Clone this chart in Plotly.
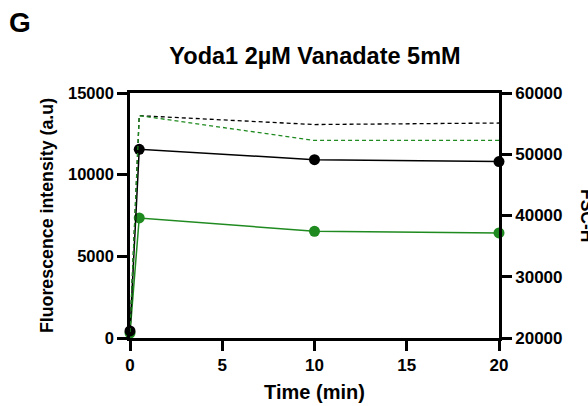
import plotly.graph_objects as go

time = [0, 0.5, 10, 20]
fluo_black = [430, 11550, 10920, 10800]
fluo_green = [300, 7350, 6530, 6430]
fsc_black = [21000, 56300, 54850, 55100]
fsc_green = [21000, 56300, 52250, 52250]

x_ticks = [0, 5, 10, 15, 20]
y_ticks = [0, 5000, 10000, 15000]
y2_ticks = [20000, 30000, 40000, 50000, 60000]

BLACK = "#000000"
GREEN = "#1f8a1f"
FONT = "Liberation Sans, Arial, sans-serif"

L, R, T, B = 130, 499, 93, 338
W, H = 588, 406

fig = go.Figure()
fig.add_trace(go.Scatter(x=time, y=fsc_black, yaxis="y2", mode="lines",
                         line=dict(color=BLACK, width=1.3, dash="4px,3px"), cliponaxis=False))
fig.add_trace(go.Scatter(x=time, y=fsc_green, yaxis="y2", mode="lines",
                         line=dict(color=GREEN, width=1.3, dash="4px,3px"), cliponaxis=False))
fig.add_trace(go.Scatter(x=time, y=fluo_green, mode="lines+markers",
                         line=dict(color=GREEN, width=1.5),
                         marker=dict(color=GREEN, size=11), cliponaxis=False))
fig.add_trace(go.Scatter(x=time, y=fluo_black, mode="lines+markers",
                         line=dict(color=BLACK, width=1.5),
                         marker=dict(color=BLACK, size=11), cliponaxis=False))

common = dict(showline=True, linecolor="black", linewidth=2.7,
              ticks="outside", ticklen=10, tickwidth=2.7, tickcolor="black",
              showgrid=False, zeroline=False, automargin=False)
fig.update_layout(
    width=W, height=H,
    margin=dict(l=L, r=W - R, t=T, b=H - B),
    plot_bgcolor="white", paper_bgcolor="white",
    showlegend=False,
    font=dict(family=FONT, color="black"),
    title=dict(text="<b>Yoda1 2µM Vanadate 5mM</b>", x=315 / W, xanchor="center",
               y=1 - 56 / H, yanchor="middle", font=dict(family=FONT, size=23.5)),
    xaxis=dict(range=[0, 20], tickvals=x_ticks,
               ticktext=["<b>%d</b>" % v for v in x_ticks], mirror=True,
               tickfont=dict(family=FONT, size=17, color="black"),
               title=dict(text="<b>Time (min)</b>", font=dict(family=FONT, size=20), standoff=11),
               **common),
    yaxis=dict(range=[0, 15000], tickvals=y_ticks,
               ticktext=["<b>%d</b>" % v for v in y_ticks],
               tickfont=dict(family=FONT, size=16.5, color="black"),
               title=dict(text="<b>Fluorescence intensity (a.u)</b>",
                          font=dict(family=FONT, size=17.8), standoff=10),
               **common),
    yaxis2=dict(range=[20000, 60000], overlaying="y", side="right",
                tickvals=y2_ticks,
                ticktext=["<b>%d</b>" % v for v in y2_ticks],
                tickfont=dict(family=FONT, size=17, color="black"),
                **common),
)
fig.add_annotation(text="<b>G</b>", x=(19.5 - L) / (R - L), y=(B - 22) / (B - T),
                   xref="paper", yref="paper",
                   xanchor="center", yanchor="middle", showarrow=False,
                   font=dict(family=FONT, size=28, color="black"))
fig.add_annotation(text="<b>FSC-H</b>", x=(587 - L) / (R - L), y=(B - 215) / (B - T),
                   xref="paper", yref="paper",
                   xanchor="center", yanchor="middle", showarrow=False, textangle=90,
                   font=dict(family=FONT, size=17.5, color="black"))
fig.write_html("out.html")
